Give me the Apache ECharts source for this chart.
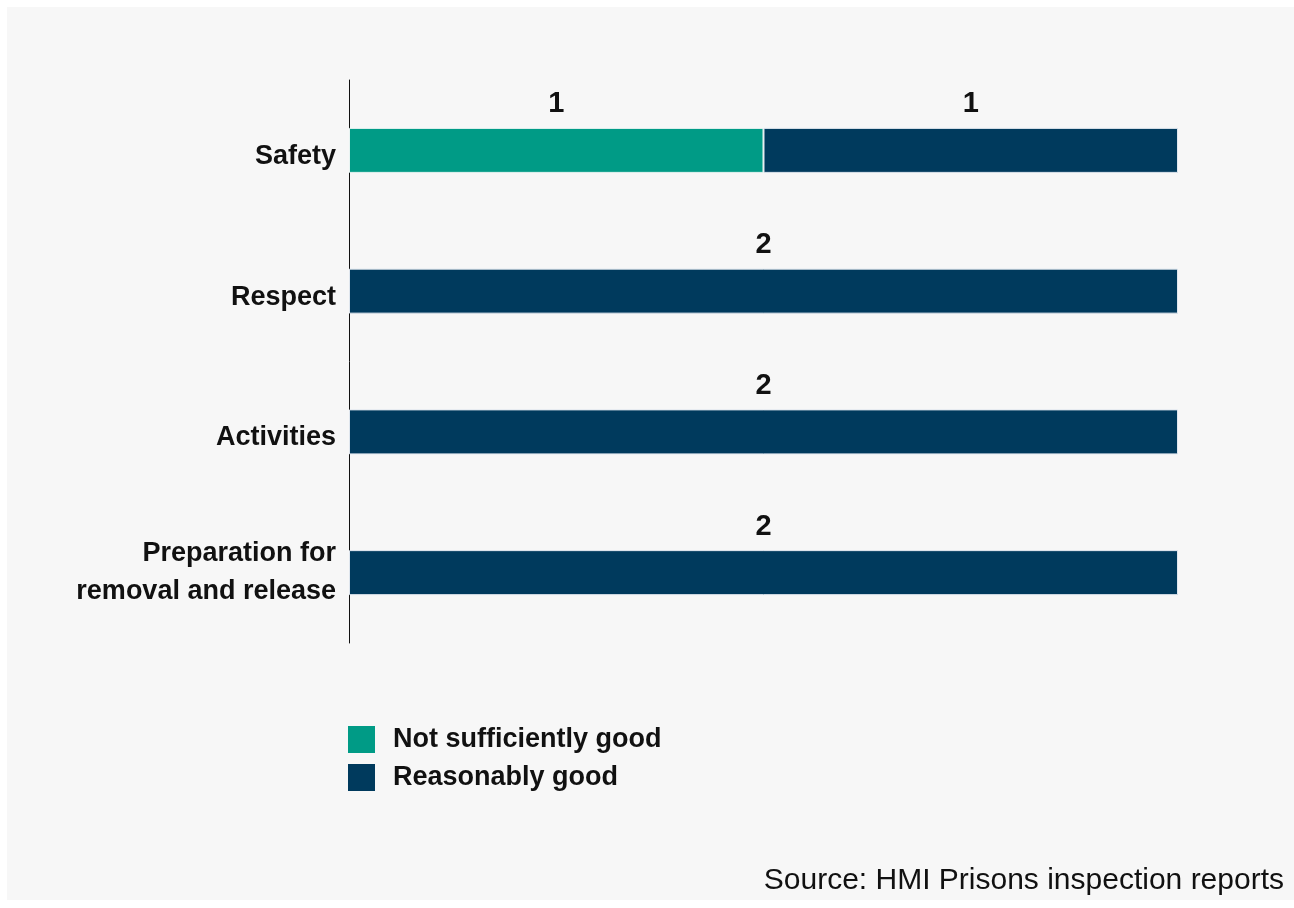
<!DOCTYPE html>
<html>
<head>
<meta charset="utf-8">
<script src="https://cdn.jsdelivr.net/npm/echarts@6/dist/echarts.min.js"></script>
<style>
html,body{margin:0;padding:0;background:#ffffff;}
#bg{position:absolute;left:7px;top:7px;width:1287px;height:893px;background:#f7f7f7;}
#main{position:absolute;left:0;top:0;width:1294px;height:908px;}
</style>
</head>
<body>
<div id="bg"></div>
<div id="main"></div>
<script>
var categories = ['Safety', 'Respect', 'Activities', 'Preparation for\nremoval and release'];
var seriesNames = ['Not sufficiently good', 'Reasonably good'];
var notSufficientlyGood = [1, null, null, null];
var reasonablyGood = [1, 2, 2, 2];
var sourceText = 'Source: HMI Prisons inspection reports';

var FONT = '"Liberation Sans Narrow", "Liberation Sans", Arial, sans-serif';
var chart = echarts.init(document.getElementById('main'));
var labelCfg = {
  show: true, position: 'top', distance: 9,
  color: '#111111', fontFamily: FONT, fontWeight: 'bold', fontSize: 29
};
var catText = {color: '#111111', fontFamily: FONT, fontWeight: 'bold', fontSize: 27};
chart.setOption({
  backgroundColor: 'transparent',
  animation: false,
  grid: {left: 349, right: 116, top: 80, bottom: 265, containLabel: false},
  xAxis: {type: 'value', min: 0, max: 2, show: false, splitLine: {show: false}},
  yAxis: {
    type: 'category', data: categories, inverse: true,
    axisLine: {show: true, lineStyle: {color: '#111111', width: 1}},
    axisTick: {show: false},
    axisLabel: {
      color: '#111111', fontFamily: FONT, fontWeight: 'bold', fontSize: 27, lineHeight: 38,
      margin: 13, align: 'right',
      formatter: function (v) {
        return v.indexOf('\n') < 0 ? '{s|' + v + '}' : '{m|' + v.split('\n').join('}\n{m|') + '}';
      },
      rich: {
        s: Object.assign({lineHeight: 27, padding: [12, 0, 0, 0]}, catText),
        m: Object.assign({lineHeight: 38}, catText)
      }
    }
  },
  legend: {
    data: seriesNames, orient: 'vertical', left: 348, top: 726, padding: 0,
    itemWidth: 27, itemHeight: 27, itemGap: 11, icon: 'rect',
    itemStyle: {borderWidth: 0},
    textStyle: {color: '#111111', fontFamily: FONT, fontWeight: 'bold', fontSize: 27, lineHeight: 23, padding: [4, 0, 0, 13]}
  },
  graphic: [{
    type: 'text', right: 10, top: 866,
    style: {text: sourceText, fill: '#111111', font: '30px ' + FONT}
  }],
  series: [
    {name: seriesNames[0], type: 'bar', stack: 'total', data: notSufficientlyGood, barWidth: 45,
     itemStyle: {color: '#009b86', borderColor: '#e8f4f2', borderWidth: 1}, label: labelCfg},
    {name: seriesNames[1], type: 'bar', stack: 'total', data: reasonablyGood, barWidth: 45,
     itemStyle: {color: '#003a5d', borderColor: '#dfe6ee', borderWidth: 1}, label: labelCfg}
  ]
});
</script>
</body>
</html>
